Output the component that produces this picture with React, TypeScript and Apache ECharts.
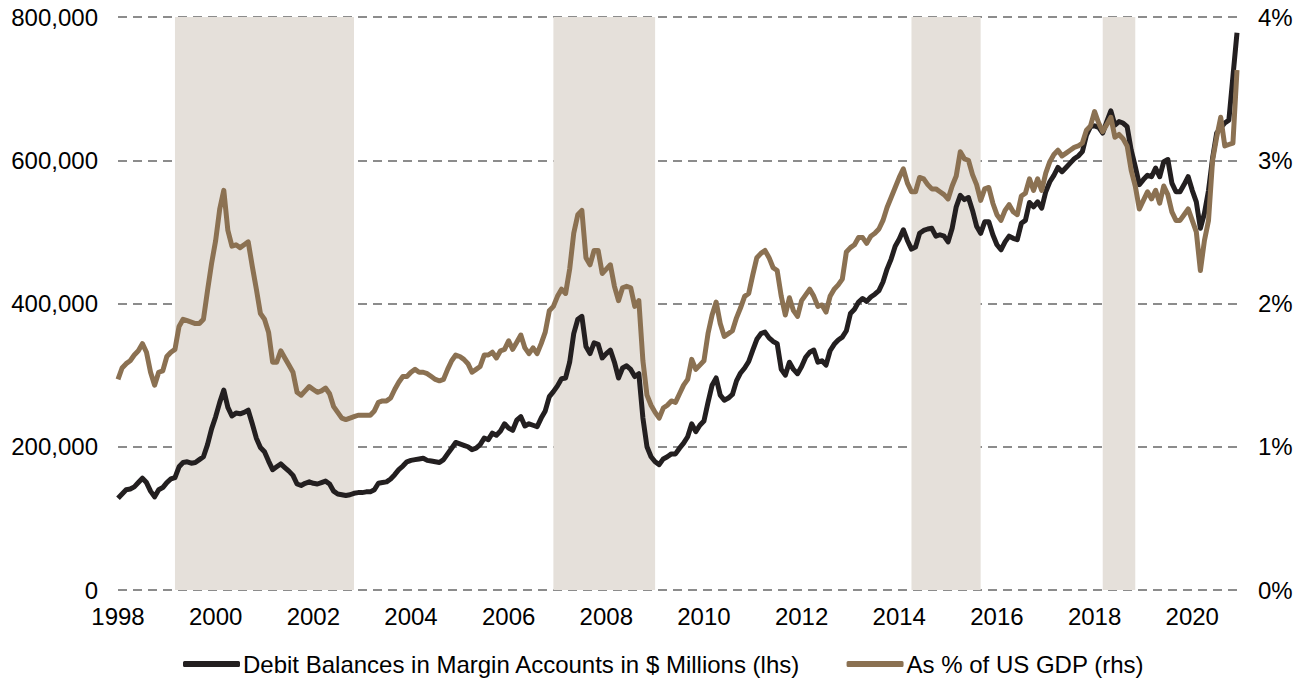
import React, { useEffect, useRef } from "react";
import * as echarts from "echarts";

const FIRST_YEAR = 1998;
const LAST_YEAR = 2020;
const months: string[] = [];
for (let y = FIRST_YEAR; y <= LAST_YEAR; y++) {
  for (let m = 1; m <= 12; m++) months.push(`${y}-${String(m).padStart(2, "0")}`);
}

// Debit balances in margin accounts, $ millions (monthly, Jan 1998 - Dec 2020)
const debitBalances: number[] = [
  128000, 134000, 140000, 141000, 144000, 150000, 156000, 150000, 138000, 130000, 140000, 143000,
  150000, 155000, 157000, 172000, 178000, 179000, 177000, 178000, 182000, 186000, 203000, 225000,
  242000, 262000, 279000, 255000, 243000, 247000, 246000, 248000, 251000, 232000, 212000, 199000,
  193000, 180000, 168000, 172000, 176000, 171000, 166000, 160000, 148000, 146000, 149000, 151000,
  149000, 148000, 150000, 152000, 148000, 138000, 134000, 133000, 132000, 133000, 135000, 136000,
  136000, 137000, 137000, 140000, 149000, 150000, 151000, 155000, 161000, 168000, 173000, 179000,
  181000, 182000, 183000, 184000, 181000, 180000, 179000, 178000, 182000, 190000, 198000, 206000,
  204000, 202000, 200000, 196000, 198000, 203000, 212000, 210000, 219000, 216000, 222000, 232000,
  226000, 223000, 237000, 242000, 229000, 232000, 230000, 228000, 240000, 250000, 270000, 277000,
  285000, 295000, 296000, 318000, 358000, 378000, 382000, 340000, 330000, 345000, 343000, 324000,
  330000, 335000, 318000, 296000, 310000, 313000, 308000, 298000, 302000, 240000, 200000, 186000,
  179000, 175000, 183000, 186000, 190000, 190000, 198000, 205000, 214000, 232000, 221000, 230000,
  236000, 262000, 286000, 296000, 272000, 265000, 268000, 273000, 292000, 303000, 310000, 319000,
  335000, 350000, 358000, 360000, 352000, 347000, 344000, 308000, 300000, 318000, 308000, 302000,
  312000, 325000, 332000, 335000, 318000, 320000, 314000, 334000, 343000, 349000, 353000, 362000,
  386000, 392000, 402000, 407000, 403000, 409000, 413000, 418000, 430000, 448000, 462000, 480000,
  490000, 503000, 488000, 476000, 479000, 498000, 502000, 504000, 505000, 494000, 496000, 494000,
  486000, 505000, 535000, 551000, 545000, 548000, 530000, 508000, 498000, 514000, 514000, 496000,
  482000, 475000, 486000, 494000, 491000, 489000, 512000, 516000, 541000, 535000, 542000, 533000,
  556000, 570000, 579000, 590000, 584000, 590000, 596000, 602000, 606000, 612000, 635000, 647000,
  648000, 646000, 638000, 654000, 669000, 649000, 654000, 652000, 647000, 614000, 591000, 566000,
  573000, 579000, 577000, 589000, 577000, 598000, 601000, 568000, 556000, 556000, 566000, 577000,
  558000, 542000, 505000, 526000, 558000, 603000, 638000, 645000, 652000, 656000, 717000, 778000,
];

// Margin debt as % of US GDP
const pctOfGdp: number[] = [
  1.47, 1.55, 1.58, 1.6, 1.64, 1.67, 1.72, 1.66, 1.52, 1.43, 1.52, 1.53,
  1.63, 1.66, 1.68, 1.84, 1.89, 1.88, 1.87, 1.86, 1.86, 1.89, 2.09, 2.28,
  2.44, 2.66, 2.79, 2.51, 2.4, 2.41, 2.39, 2.41, 2.43, 2.26, 2.1, 1.93,
  1.89, 1.8, 1.59, 1.59, 1.67, 1.62, 1.57, 1.52, 1.38, 1.36, 1.39, 1.42,
  1.4, 1.38, 1.39, 1.41, 1.37, 1.28, 1.24, 1.2, 1.19, 1.2, 1.21, 1.22,
  1.22, 1.22, 1.22, 1.25, 1.31, 1.32, 1.32, 1.34, 1.4, 1.45, 1.49, 1.49,
  1.52, 1.54, 1.52, 1.52, 1.51, 1.49, 1.47, 1.46, 1.47, 1.54, 1.6, 1.64,
  1.63, 1.61, 1.58, 1.52, 1.54, 1.56, 1.64, 1.64, 1.66, 1.62, 1.67, 1.68,
  1.74, 1.68, 1.73, 1.78, 1.69, 1.65, 1.69, 1.65, 1.72, 1.8, 1.95, 1.98,
  2.05, 2.1, 2.07, 2.24, 2.49, 2.62, 2.65, 2.32, 2.27, 2.37, 2.37, 2.21,
  2.24, 2.27, 2.12, 2.02, 2.11, 2.12, 2.11, 1.98, 2.02, 1.6, 1.36, 1.29,
  1.24, 1.2, 1.27, 1.29, 1.32, 1.31, 1.37, 1.43, 1.47, 1.61, 1.54, 1.57,
  1.6, 1.79, 1.92, 2.01, 1.86, 1.77, 1.79, 1.81, 1.9, 1.97, 2.05, 2.07,
  2.2, 2.32, 2.35, 2.37, 2.32, 2.25, 2.23, 2.05, 1.92, 2.04, 1.95, 1.91,
  2.02, 2.06, 2.1, 2.05, 1.98, 1.99, 1.94, 2.05, 2.1, 2.13, 2.17, 2.36,
  2.39, 2.41, 2.46, 2.46, 2.42, 2.47, 2.49, 2.52, 2.58, 2.67, 2.74, 2.81,
  2.88, 2.94, 2.84, 2.78, 2.78, 2.88, 2.87, 2.83, 2.8, 2.8, 2.78, 2.76,
  2.73, 2.82, 2.89, 3.06, 3.01, 3.0, 2.9, 2.83, 2.72, 2.8, 2.81, 2.7,
  2.62, 2.58, 2.65, 2.69, 2.64, 2.62, 2.75, 2.77, 2.87, 2.79, 2.87, 2.79,
  2.91, 2.99, 3.04, 3.07, 3.03, 3.05, 3.07, 3.09, 3.1, 3.12, 3.21, 3.24,
  3.34, 3.26, 3.2, 3.25, 3.3, 3.16, 3.18, 3.15, 3.1, 2.93, 2.82, 2.66,
  2.72, 2.78, 2.73, 2.79, 2.7, 2.82, 2.76, 2.64, 2.58, 2.58, 2.62, 2.66,
  2.58, 2.5, 2.23, 2.44, 2.58, 3.0, 3.16, 3.3, 3.1, 3.11, 3.12, 3.63,
];

// Shaded periods [start month, end month]
const shadedPeriods: [string, string][] = [
  ["1999-03", "2002-11"],
  ["2006-12", "2009-01"],
  ["2014-04", "2015-09"],
  ["2018-03", "2018-11"],
];

const leftTicks = { min: 0, max: 800000, interval: 200000 };
const rightTicks = { min: 0, max: 4, interval: 1 };

const SERIES_NAMES = [
  "Debit Balances in Margin Accounts in $ Millions (lhs)",
  "As % of US GDP (rhs)",
];

const FONT = "'Liberation Sans', Arial, Helvetica, sans-serif";
const BLACK = "#231f20";
const BROWN = "#8b7152";
const SHADE = "#e5e0da";

export default function App() {
  const ref = useRef<HTMLDivElement>(null);
  useEffect(() => {
    if (!ref.current) return;
    const chart = echarts.init(ref.current, undefined, { renderer: "svg" });
    const labelStyle = { color: "#000", fontSize: 24, fontFamily: FONT };
    chart.setOption({
      animation: false,
      backgroundColor: "#fff",
      grid: { left: 118, right: 61, top: 17, bottom: 90, containLabel: false },
      legend: {
        left: 183,
        top: 652,
        padding: 0,
        itemWidth: 57,
        itemHeight: 6,
        itemGap: 46,
        icon: "roundRect",
        textStyle: { ...labelStyle, padding: [0, 0, 0, -2] },
        data: [
          { name: SERIES_NAMES[0], itemStyle: { color: BLACK } },
          { name: SERIES_NAMES[1], itemStyle: { color: BROWN } },
        ],
      },
      xAxis: {
        type: "category",
        data: months,
        boundaryGap: false,
        axisLine: { show: false },
        axisTick: { show: false },
        splitLine: { show: false },
        axisLabel: {
          ...labelStyle,
          margin: 14,
          interval: 23,
          formatter: (v: string) => v.slice(0, 4),
        },
      },
      yAxis: [
        {
          type: "value",
          ...leftTicks,
          axisLine: { show: false },
          axisTick: { show: false },
          axisLabel: {
            ...labelStyle,
            margin: 20,
            formatter: (v: number) => v.toLocaleString("en-US"),
          },
          splitLine: {
            show: true,
            lineStyle: { color: "#8c8c8c", width: 2, type: [9, 6] },
          },
        },
        {
          type: "value",
          ...rightTicks,
          position: "right",
          axisLine: { show: false },
          axisTick: { show: false },
          splitLine: { show: false },
          axisLabel: {
            ...labelStyle,
            margin: 21,
            formatter: (v: number) => `${v}%`,
          },
        },
      ],
      series: [
        {
          name: SERIES_NAMES[0],
          type: "line",
          yAxisIndex: 0,
          data: debitBalances,
          showSymbol: false,
          symbol: "none",
          lineStyle: { color: BLACK, width: 5, join: "round" },
          itemStyle: { color: BLACK },
          z: 3,
          markArea: {
            silent: true,
            itemStyle: { color: SHADE },
            data: shadedPeriods.map(([a, b]) => [{ xAxis: a }, { xAxis: b }]),
          },
        },
        {
          name: SERIES_NAMES[1],
          type: "line",
          yAxisIndex: 1,
          data: pctOfGdp,
          showSymbol: false,
          symbol: "none",
          lineStyle: { color: BROWN, width: 5, join: "round" },
          itemStyle: { color: BROWN },
          z: 4,
        },
      ],
    });
    return () => chart.dispose();
  }, []);
  return (
    <div
      ref={ref}
      style={{ position: "fixed", left: 0, top: 0, width: 1298, height: 680 }}
    />
  );
}
